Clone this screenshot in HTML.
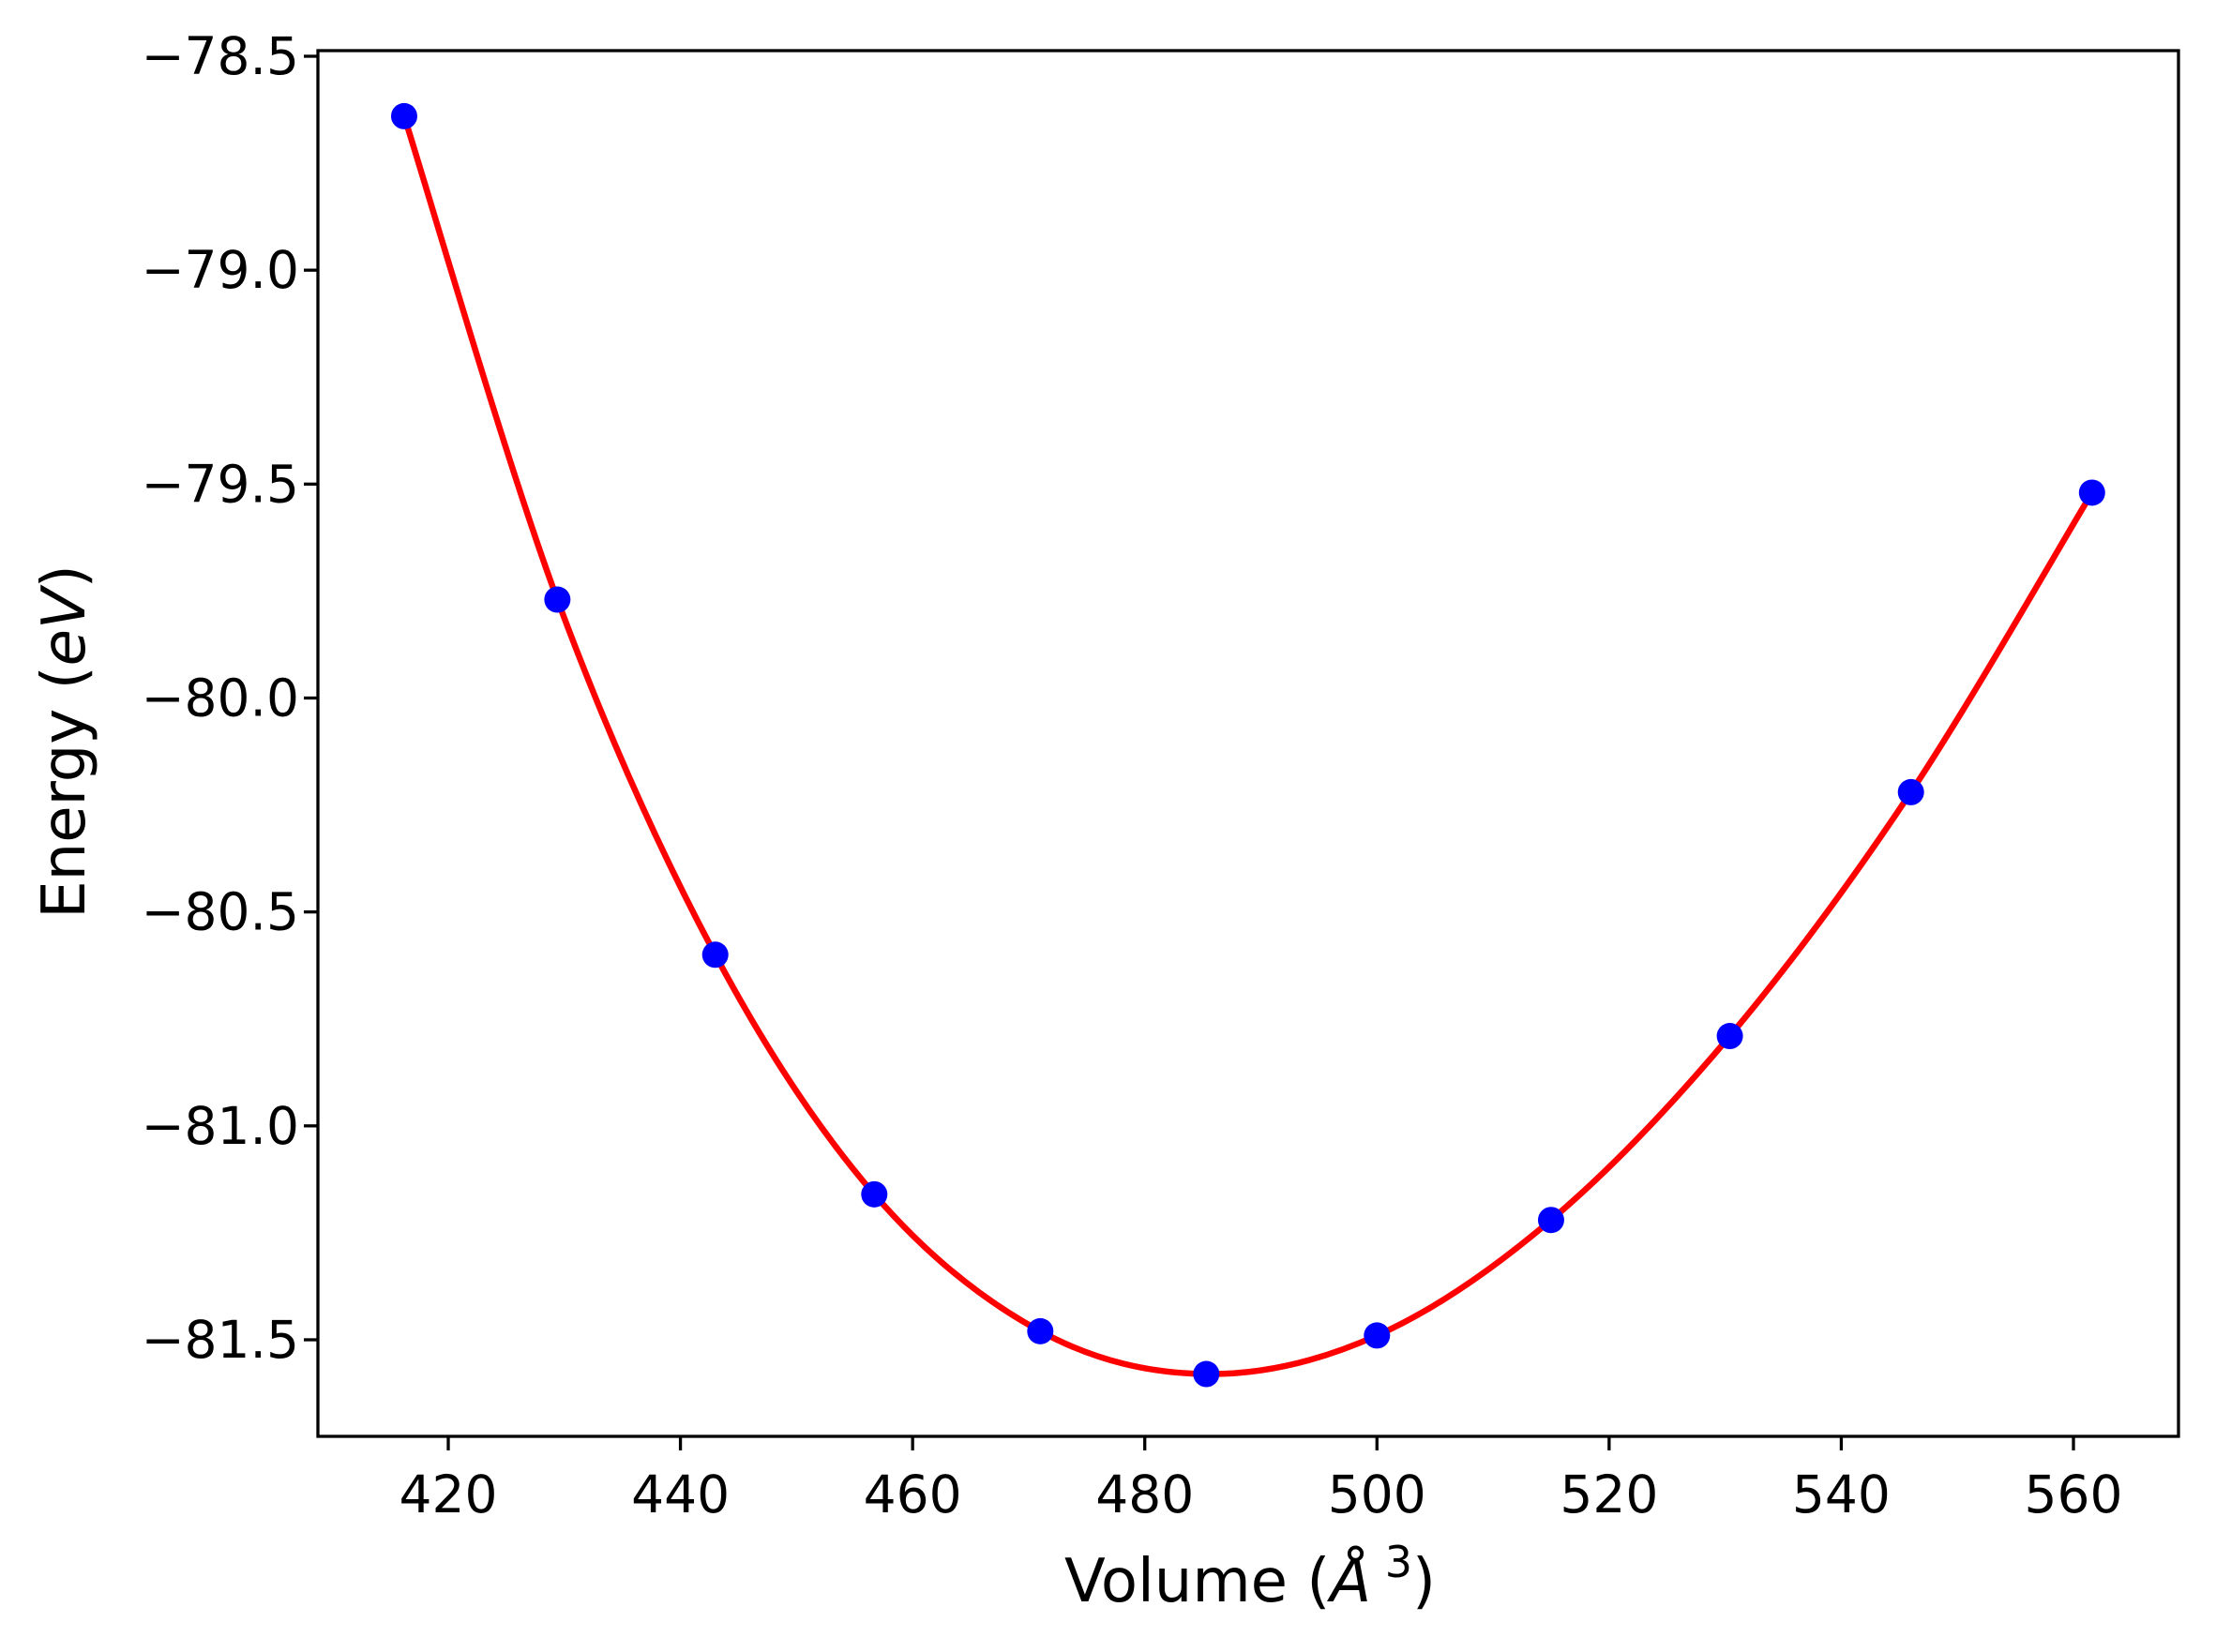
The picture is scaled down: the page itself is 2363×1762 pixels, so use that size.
<!DOCTYPE html>
<html><head><meta charset="utf-8"><style>
html,body{margin:0;padding:0;background:#fff;}
svg{display:block;font-family:"DejaVu Sans","Liberation Sans",sans-serif;}
</style></head><body>
<svg id="chart" width="2363" height="1762" viewBox="0 0 2363 1762" xmlns="http://www.w3.org/2000/svg">
<rect width="2363" height="1762" fill="#fff"/>
<g id="curve-layer"></g>
<g id="points-layer"></g>
<rect x="339" y="54" width="1984" height="1478" fill="none" stroke="#000" stroke-width="3.3"/>
<g id="xticks"></g>
<g id="yticks"></g>
<text x="1333" y="1708" font-size="64" text-anchor="middle">Volume (<tspan font-style="italic">Å</tspan><tspan font-size="46" dy="-26"> 3</tspan><tspan dy="26">)</tspan></text>
<text transform="translate(90,791) rotate(-90)" font-size="64" text-anchor="middle">Energy (<tspan font-style="italic">eV</tspan>)</text>
</svg>
<script>
const volumes = [416.2, 429.4, 443.0, 456.7, 471.0, 485.3, 500.0, 515.0, 530.4, 546.0, 561.6];
const energies = [-78.64, -79.77, -80.60, -81.16, -81.48, -81.58, -81.49, -81.22, -80.79, -80.22, -79.52];
const xTickValues = [420, 440, 460, 480, 500, 520, 540, 560];
const yTickValues = [-78.5, -79.0, -79.5, -80.0, -80.5, -81.0, -81.5];
const yTickLabels = ["\u221278.5", "\u221279.0", "\u221279.5", "\u221280.0", "\u221280.5", "\u221281.0", "\u221281.5"];

const NS = "http://www.w3.org/2000/svg";
function xScale(v){ return 478 + (v - 420) * (2211 - 478) / 140; }
function yScale(e){ return 60 + (-78.5 - e) * (1429 - 60) / 3.0; }
function mk(tag, attrs, parent){
  const el = document.createElementNS(NS, tag);
  for (const k in attrs) el.setAttribute(k, attrs[k]);
  parent.appendChild(el);
  return el;
}

const xt = document.getElementById('xticks');
xTickValues.forEach(v => {
  const x = xScale(v);
  const t = mk('line', {x1:x, x2:x, y1:1532, y2:1547, stroke:'#000', 'stroke-width':3.3}, xt);
  
  
  const l = mk('text', {x:x, y:1613, 'font-size':55, 'text-anchor':'middle'}, xt);
  l.textContent = String(v);
  
  
});

const yt = document.getElementById('yticks');
yTickValues.forEach((v, i) => {
  const y = yScale(v);
  const t = mk('line', {x1:324, x2:339, y1:y, y2:y, stroke:'#000', 'stroke-width':3.3}, yt);
  
  
  const l = mk('text', {x:319, y:y + 19, 'font-size':55, 'text-anchor':'end'}, yt);
  l.textContent = yTickLabels[i];
  
  
});

const pts = volumes.map((v, i) => [xScale(v), yScale(energies[i])]);
let d = 'M' + pts[0][0] + ',' + pts[0][1];
for (let i = 0; i < pts.length - 1; i++) {
  const p0 = pts[Math.max(0, i - 1)], p1 = pts[i], p2 = pts[i + 1], p3 = pts[Math.min(pts.length - 1, i + 2)];
  const c1x = p1[0] + (p2[0] - p0[0]) / 6, c1y = p1[1] + (p2[1] - p0[1]) / 6;
  const c2x = p2[0] - (p3[0] - p1[0]) / 6, c2y = p2[1] - (p3[1] - p1[1]) / 6;
  d += ' C' + c1x + ',' + c1y + ' ' + c2x + ',' + c2y + ' ' + p2[0] + ',' + p2[1];
}
const curve = mk('path', {d:d, fill:'none', stroke:'#ff0000', 'stroke-width':6.5}, document.getElementById('curve-layer'));



const pl = document.getElementById('points-layer');
pts.forEach(p => {
  const c = mk('circle', {cx:p[0], cy:p[1], r:14, fill:'#0000ff'}, pl);
  
  
});
</script>
</body></html>
